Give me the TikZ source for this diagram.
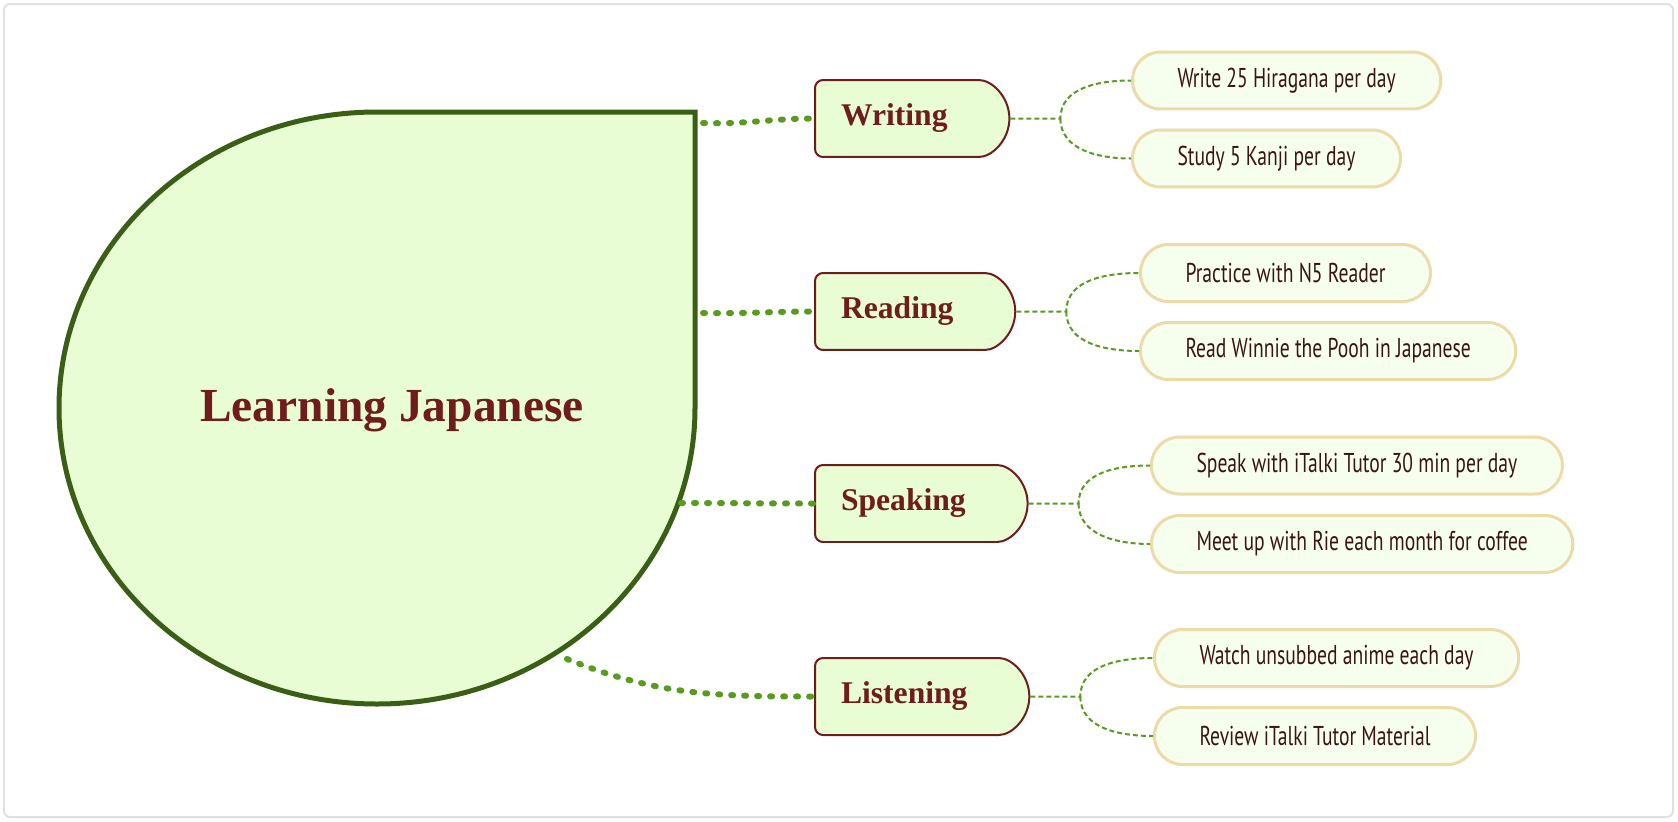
\documentclass[tikz,border=0pt]{standalone}
\usepackage{fontspec}
\setmainfont{Liberation Serif}
\newfontfamily\leaffont[FakeStretch=0.72]{PT Sans}
\usetikzlibrary{shapes.misc}

\definecolor{rootfill}{HTML}{E8FDD4}
\definecolor{rootline}{HTML}{3A5E16}
\definecolor{branchred}{HTML}{6E1C1C}
\definecolor{twig}{HTML}{589B1E}
\definecolor{leaffill}{HTML}{F6FFEE}
\definecolor{leafline}{HTML}{ECDAA8}
\definecolor{leaftext}{HTML}{3A1414}

\tikzset{
  branch/.style={shape=rounded rectangle, rounded rectangle left arc=none,
    rounded corners=0.16cm, draw=branchred, line width=0.04cm, fill=rootfill,
    text=branchred, font=\fontsize{18}{20}\selectfont\bfseries,
    minimum height=1.54cm, inner xsep=0.52cm, anchor=west,
    execute at end node=\hspace{0.66cm}},
  leaf/.style={rectangle, rounded corners=0.56cm, draw=leafline,
    line width=0.06cm, fill=leaffill, text=leaftext,
    font=\leaffont\fontsize{15.5}{17}\selectfont,
    minimum height=1.14cm, inner xsep=0.9cm, anchor=west},
  dots/.style={draw=twig, line width=0.12cm, line cap=round,
    dash pattern=on 0.04cm off 0.22cm},
  twiglink/.style={draw=twig, line width=0.04cm,
    dash pattern=on 0.1cm off 0.06cm}
}

\begin{document}
\begin{tikzpicture}[x=0.02cm, y=0.02cm]
\useasboundingbox (0,0) rectangle (1678,-822);
\draw [rounded corners=0.12cm, draw=black!12, line width=0.04cm] (4,-4) rectangle (1673,-817);

% root
\draw [fill=rootfill, draw=rootline, line width=0.1cm] (695,-408) -- (695,-112) -- (377,-112)
  arc [start angle=90, end angle=360, x radius=318, y radius=296] -- cycle;
\node [font=\fontsize{27}{30}\selectfont\bfseries, text=branchred] (root) at (392,-410) {Learning Japanese};
\coordinate (rw) at (703,-123);
\coordinate (rr) at (703,-313);
\coordinate (rs) at (681,-503);
\coordinate (rl) at (567,-659);

% branches
\node [branch] (writing) at (814,-118.5) {Writing};
\node [branch] (reading) at (814,-311.5) {Reading};
\node [branch] (speaking) at (814,-503.5) {Speaking};
\node [branch] (listening) at (814,-696.5) {Listening};

% leaves
\node [leaf] (w1) at (1131,-80.5) {Write 25 Hiragana per day};
\node [leaf] (w2) at (1131,-158.5) {Study 5 Kanji per day};
\node [leaf] (r1) at (1139,-273) {Practice with N5 Reader};
\node [leaf] (r2) at (1139,-351) {Read Winnie the Pooh in Japanese};
\node [leaf] (s1) at (1150,-465.5) {Speak with iTalki Tutor 30 min per day};
\node [leaf] (s2) at (1150,-544) {Meet up with Rie each month for coffee};
\node [leaf] (l1) at (1153,-658) {Watch unsubbed anime each day};
\node [leaf] (l2) at (1153,-736) {Review iTalki Tutor Material};

\draw [dots] (rw) to[out=-2,in=180] (writing.west);
\draw [dots] (rr) to[out=-1,in=180] (reading.west);
\draw [dots] (rs) to[out=0,in=180] (speaking.west);
\draw [dots] (rl) to[out=-22,in=180] (listening.west);

\foreach \b/\u/\d in {writing/w1/w2, reading/r1/r2, speaking/s1/s2, listening/l1/l2} {
  \draw [twiglink] (\b.east) -- ++(50,0) coordinate (fork) to[out=90,in=180] (\u.west);
  \draw [twiglink] (fork) to[out=-90,in=180] (\d.west);
}
\end{tikzpicture}
\end{document}
